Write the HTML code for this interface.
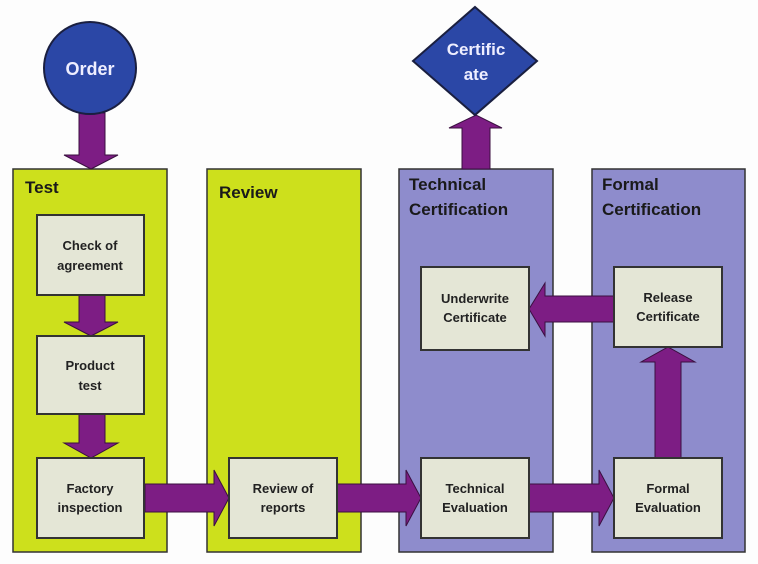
<!DOCTYPE html>
<html><head><meta charset="utf-8"><style>
body{margin:0;background:#fdfdfd;}
svg{display:block;font-family:"Liberation Sans",sans-serif;}
.col{stroke:#333;stroke-width:1.5}
.box{fill:#e4e6d6;stroke:#333;stroke-width:2}
.t{font-size:13px;font-weight:bold;fill:#222;text-anchor:middle}
.h{font-size:17px;font-weight:bold;fill:#1a1a1a}
.a{fill:#7d1d84;stroke:#3a1040;stroke-width:1}
</style></head><body>
<svg width="758" height="564" viewBox="0 0 758 564">
<rect x="13" y="169" width="154" height="383" fill="#cde01c" class="col"/>
<rect x="207" y="169" width="154" height="383" fill="#cde01c" class="col"/>
<rect x="399" y="169" width="154" height="383" fill="#8e8ccc" class="col"/>
<rect x="592" y="169" width="153" height="383" fill="#8e8ccc" class="col"/>
<text x="25" y="193" class="h">Test</text>
<text x="219" y="198" class="h">Review</text>
<text x="409" y="190" class="h">Technical</text>
<text x="409" y="215" class="h">Certification</text>
<text x="602" y="190" class="h">Formal</text>
<text x="602" y="215" class="h">Certification</text>
<!-- arrows -->
<polygon class="a" points="79,113 105,113 105,155 118,155 91,169 64,155 79,155"/>
<polygon class="a" points="79,295 105,295 105,322 118,322 91,336 64,322 79,322"/>
<polygon class="a" points="79,414 105,414 105,443 118,443 91,458 64,443 79,443"/>
<polygon class="a" points="462,169 490,169 490,128 502,128 476,115 449,128 462,128"/>
<polygon class="a" points="145,484 214,484 214,470 229,498 214,526 214,512 145,512"/>
<polygon class="a" points="337,484 406,484 406,470 421,498 406,526 406,512 337,512"/>
<polygon class="a" points="529,484 599,484 599,470 614,498 599,526 599,512 529,512"/>
<polygon class="a" points="655,458 681,458 681,362 695,362 668,347 641,362 655,362"/>
<polygon class="a" points="614,296 545,296 545,283 529,309 545,336 545,322 614,322"/>
<!-- boxes -->
<rect x="37" y="215" width="107" height="80" class="box"/>
<text x="90" y="250" class="t">Check of</text><text x="90" y="270" class="t">agreement</text>
<rect x="37" y="336" width="107" height="78" class="box"/>
<text x="90" y="370" class="t">Product</text><text x="90" y="390" class="t">test</text>
<rect x="37" y="458" width="107" height="80" class="box"/>
<text x="90" y="493" class="t">Factory</text><text x="90" y="512" class="t">inspection</text>
<rect x="229" y="458" width="108" height="80" class="box"/>
<text x="283" y="493" class="t">Review of</text><text x="283" y="512" class="t">reports</text>
<rect x="421" y="458" width="108" height="80" class="box"/>
<text x="475" y="493" class="t">Technical</text><text x="475" y="512" class="t">Evaluation</text>
<rect x="614" y="458" width="108" height="80" class="box"/>
<text x="668" y="493" class="t">Formal</text><text x="668" y="512" class="t">Evaluation</text>
<rect x="421" y="267" width="108" height="83" class="box"/>
<text x="475" y="303" class="t">Underwrite</text><text x="475" y="322" class="t">Certificate</text>
<rect x="614" y="267" width="108" height="80" class="box"/>
<text x="668" y="302" class="t">Release</text><text x="668" y="321" class="t">Certificate</text>
<!-- order / certificate -->
<circle cx="90" cy="68" r="46" fill="#2b47a6" stroke="#1a1f40" stroke-width="2"/>
<text x="90" y="75" font-size="18" font-weight="bold" fill="#eef" text-anchor="middle">Order</text>
<polygon points="475,7 537,61 475,115 413,61" fill="#2b47a6" stroke="#1a1f40" stroke-width="2"/>
<text x="476" y="55" font-size="17" font-weight="bold" fill="#eef" text-anchor="middle">Certific</text>
<text x="476" y="80" font-size="17" font-weight="bold" fill="#eef" text-anchor="middle">ate</text>
</svg>
</body></html>
